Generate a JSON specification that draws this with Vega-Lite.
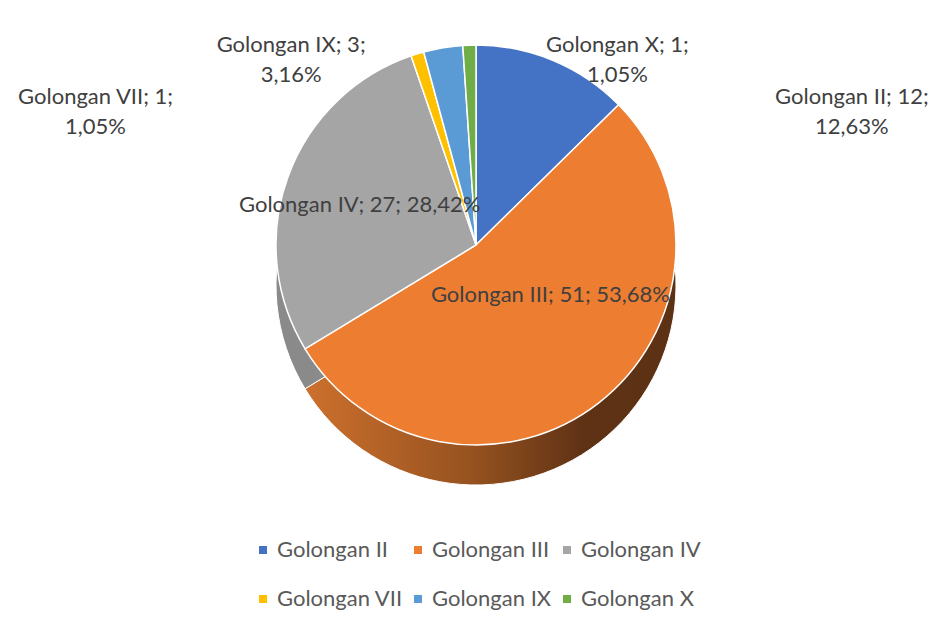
{
  "$schema": "https://vega.github.io/schema/vega-lite/v6.json",
  "autosize": "none",
  "width": 900,
  "height": 490,
  "padding": {"left": 26, "top": 0, "right": 8, "bottom": 138},
  "background": "white",
  "config": {
    "view": {"stroke": null},
    "font": "Lato",
    "text": {"font": "Lato", "fontSize": 22, "fill": "#404040"},
    "legend": {"layout": {"bottom": {"anchor": "middle"}}}
  },
  "data": {
    "values": [
      {"golongan": "Golongan II", "jumlah": 12, "idx": 1, "label": "Golongan II; 12;\n12,63%"},
      {"golongan": "Golongan III", "jumlah": 51, "idx": 2, "label": "Golongan III; 51; 53,68%"},
      {"golongan": "Golongan IV", "jumlah": 27, "idx": 3, "label": "Golongan IV; 27; 28,42%"},
      {"golongan": "Golongan VII", "jumlah": 1, "idx": 4, "label": "Golongan VII; 1;\n1,05%"},
      {"golongan": "Golongan IX", "jumlah": 3, "idx": 5, "label": "Golongan IX; 3;\n3,16%"},
      {"golongan": "Golongan X", "jumlah": 1, "idx": 6, "label": "Golongan X; 1;\n1,05%"}
    ]
  },
  "encoding": {
    "theta": {"field": "jumlah", "type": "quantitative", "stack": true},
    "order": {"field": "idx", "type": "quantitative"}
  },
  "layer": [
    {
      "mark": {"type": "arc", "outerRadius": 200, "yOffset": 40, "stroke": "white", "strokeWidth": 1},
      "encoding": {
        "fill": {
          "condition": {"test": "datum.golongan === 'Golongan III'",
            "value": {"gradient": "linear", "x1": 0, "x2": 1, "y1": 0, "y2": 0,
              "stops": [{"offset": 0, "color": "#cc702d"}, {"offset": 0.45, "color": "#96521f"}, {"offset": 0.75, "color": "#5f3215"}, {"offset": 1, "color": "#5c3114"}]}},
          "value": "#8a8a8a"
        }
      }
    },
    {
      "mark": {"type": "arc", "outerRadius": 200, "stroke": "white", "strokeWidth": 1.5},
      "encoding": {
        "color": {
          "field": "golongan", "type": "nominal",
          "scale": {
            "domain": ["Golongan II", "Golongan III", "Golongan IV", "Golongan VII", "Golongan IX", "Golongan X"],
            "range": ["#4472C4", "#ED7D31", "#A5A5A5", "#FFC000", "#5B9BD5", "#70AD47"]
          },
          "legend": {
            "title": null, "orient": "bottom", "direction": "horizontal", "columns": 3,
            "symbolType": "square", "symbolSize": 64, "symbolStrokeWidth": 0,
            "labelFont": "Lato", "labelFontSize": 22, "labelColor": "#595959",
            "labelOffset": 3, "rowPadding": 27, "columnPadding": 4, "offset": 49
          }
        }
      }
    },
    {
      "mark": {"type": "text", "radius": 95, "dx": -27, "dy": -8, "lineBreak": "\n"},
      "encoding": {"text": {"condition": {"test": "datum.golongan === 'Golongan IV'", "field": "label"}, "value": ""}}
    },
    {
      "mark": {"type": "text", "radius": 100, "dx": 13, "dy": -29, "lineBreak": "\n"},
      "encoding": {"text": {"condition": {"test": "datum.golongan === 'Golongan III'", "field": "label"}, "value": ""}}
    },
    {
      "mark": {"type": "text", "radius": 230, "dx": 287, "dy": 64, "lineBreak": "\n", "lineHeight": 30},
      "encoding": {"text": {"condition": {"test": "datum.golongan === 'Golongan II'", "field": "label"}, "value": ""}}
    },
    {
      "mark": {"type": "text", "radius": 230, "dx": -313, "dy": 72, "lineBreak": "\n", "lineHeight": 30},
      "encoding": {"text": {"condition": {"test": "datum.golongan === 'Golongan VII'", "field": "label"}, "value": ""}}
    },
    {
      "mark": {"type": "text", "radius": 230, "dx": -147, "dy": 27, "lineBreak": "\n", "lineHeight": 30},
      "encoding": {"text": {"condition": {"test": "datum.golongan === 'Golongan IX'", "field": "label"}, "value": ""}}
    },
    {
      "mark": {"type": "text", "radius": 230, "dx": 149, "dy": 30, "lineBreak": "\n", "lineHeight": 30},
      "encoding": {"text": {"condition": {"test": "datum.golongan === 'Golongan X'", "field": "label"}, "value": ""}}
    }
  ]
}
